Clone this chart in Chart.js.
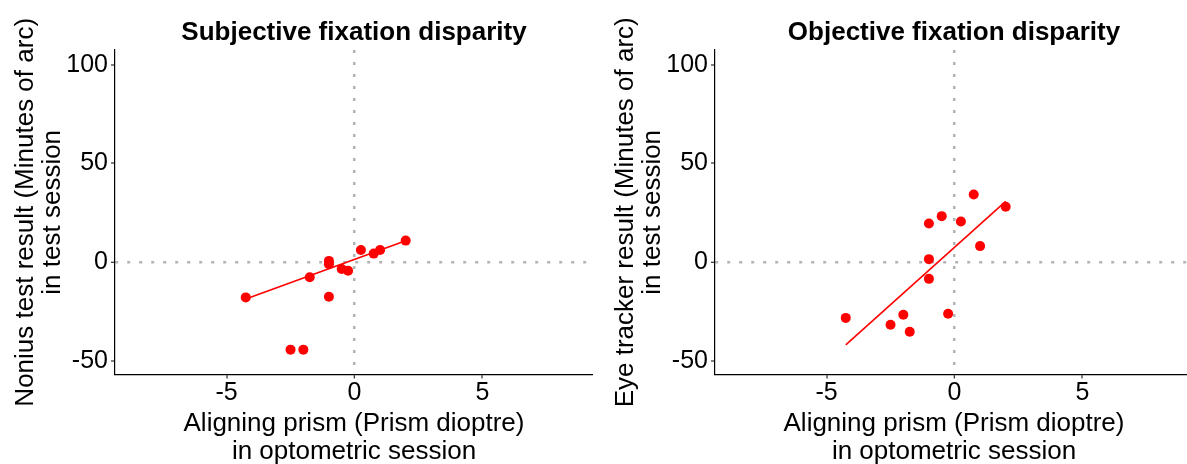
<!DOCTYPE html>
<html>
<head>
<meta charset="utf-8">
<script src="https://cdn.jsdelivr.net/npm/chart.js@4/dist/chart.umd.min.js"></script>
<style>
  html, body { margin: 0; padding: 0; background: #fff; overflow: hidden; width: 1187px; height: 464px; }
  .panel { position: absolute; top: 0; width: 600px; height: 464px; }
</style>
</head>
<body>
<div class="panel" style="left:0"><canvas id="subj" width="600" height="464"></canvas></div>
<div class="panel" style="left:600px"><canvas id="obj" width="600" height="464"></canvas></div>
<script>
// aligning prism per participant (Prism dioptre)
const prism = [-4.25, -2.5, -2, -1.75, -1, -1, -1, -0.5, -0.25, 0.25, 0.75, 1, 2];
// nonius test result (minutes of arc)
const nonius = [-17.9, -44.4, -44.4, -7.7, 0.6, -1.1, -17.6, -3.5, -4.4, 6.1, 4.3, 6.1, 10.9];
// eye tracker result (minutes of arc)
const tracker = [-28.3, -31.8, -26.7, -35.3, 19.6, 1.5, -8.5, 23.3, -26.2, 20.6, 34.3, 8.1, 28.1];

// fitted line ends
const fitX = [-4.25, 2];
const noniusFit = [-18.7, 10.8];
const trackerFit = [-42, 30.8];

const xTicks = [-5, 0, 5];
const yTicks = [-50, 0, 50, 100];

const fam = "'Liberation Sans', Arial, Helvetica, sans-serif";

function zeroGrid() {
  return {
    display: true,
    color: "#b3b3b3",
    lineWidth: (c) => (c.tick && c.tick.value === 0 ? 2.5 : 0),
    drawOnChartArea: true,
    drawTicks: true,
    tickLength: 4,
    tickColor: "#000",
    tickWidth: 1
  };
}

function makeChart(id, title, yTitle, yVals, fitY) {
  const pts = prism.map((x, i) => ({ x: x, y: yVals[i] }));
  const fit = fitX.map((x, i) => ({ x: x, y: fitY[i] }));
  return new Chart(document.getElementById(id), {
    type: "scatter",
    data: {
      datasets: [
        {
          data: pts,
          backgroundColor: "#ff0000",
          borderWidth: 0,
          pointRadius: 5,
          pointHoverRadius: 5
        },
        {
          type: "line",
          data: fit,
          borderColor: "#ff0000",
          borderWidth: 1.6,
          pointRadius: 0,
          fill: false
        }
      ]
    },
    options: {
      responsive: false,
      animation: false,
      devicePixelRatio: 1,
      layout: { padding: { left: 0, right: 7, top: 0, bottom: 0 } },
      plugins: {
        legend: { display: false },
        tooltip: { enabled: false },
        title: {
          display: true,
          text: title,
          fullSize: false,
          color: "#000",
          font: { family: fam, size: 26, weight: "bold", lineHeight: 1.08 },
          padding: { top: 19, bottom: 3 }
        }
      },
      scales: {
        x: {
          type: "linear",
          min: -9.36,
          max: 9.32,
          afterBuildTicks: (s) => { s.ticks = xTicks.map((v) => ({ value: v })); },
          afterFit: (s) => { s.height = 89.5; },
          border: { display: true, color: "#000", width: 1.2, dash: [3, 9] },
          grid: zeroGrid(),
          ticks: { color: "#000", font: { family: fam, size: 25 }, padding: 0, maxRotation: 0 },
          title: {
            display: true,
            text: ["Aligning prism (Prism dioptre)", "in optometric session"],
            color: "#000",
            font: { family: fam, size: 26, lineHeight: 1.08 },
            padding: { top: 0, bottom: -1.5 }
          }
        },
        y: {
          type: "linear",
          min: -57,
          max: 107.5,
          afterBuildTicks: (s) => { s.ticks = yTicks.map((v) => ({ value: v })); },
          afterFit: (s) => { s.width = 115; },
          border: { display: true, color: "#000", width: 1.2, dash: [3, 9] },
          grid: zeroGrid(),
          ticks: { color: "#000", font: { family: fam, size: 25 }, padding: 3 },
          title: {
            display: true,
            text: yTitle,
            color: "#000",
            font: { family: fam, size: 26, lineHeight: 1.05 },
            padding: { top: 12, bottom: 0 }
          }
        }
      }
    }
  });
}

makeChart("subj", "Subjective fixation disparity",
  ["Nonius test result (Minutes of arc)", "in test session"], nonius, noniusFit);
makeChart("obj", "Objective fixation disparity",
  ["Eye tracker result (Minutes of arc)", "in test session"], tracker, trackerFit);
</script>
</body>
</html>
